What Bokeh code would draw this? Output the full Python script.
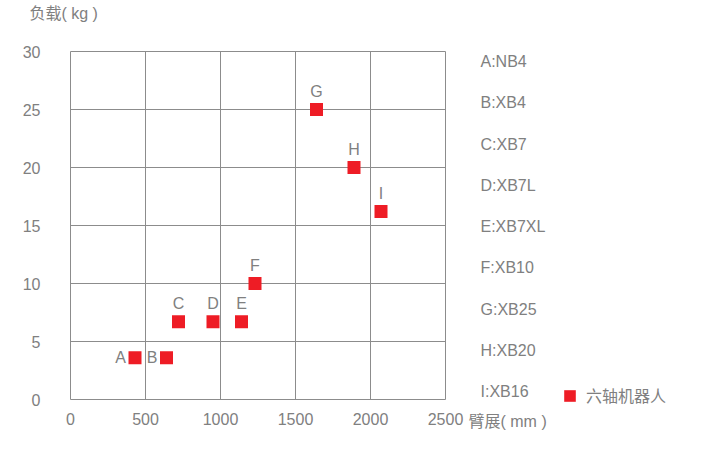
from bokeh.plotting import figure
from bokeh.models import (Range1d, FixedTicker, Label, Legend, LegendItem,
                          ColumnDataSource, LinearAxis)
from bokeh.core.properties import value
from bokeh.embed import file_html
from bokeh.resources import INLINE

# ---- data ----
point_names = ["A", "B", "C", "D", "E", "F", "G", "H", "I"]
reach_mm = [430, 640, 720, 950, 1140, 1230, 1640, 1890, 2070]
payload_kg = [3.6, 3.6, 6.7, 6.7, 6.7, 10, 25, 20, 16.2]
model_labels = ["A:NB4", "B:XB4", "C:XB7", "D:XB7L", "E:XB7XL",
                "F:XB10", "G:XB25", "H:XB20", "I:XB16"]
x_ticks = [0, 500, 1000, 1500, 2000, 2500]
y_ticks = [0, 5, 10, 15, 20, 25, 30]
series_name = "六轴机器人"
x_title = "臂展( mm )"
y_title = "负载( kg )"

# ---- style ----
FONT = "Liberation Sans, Noto Sans CJK SC"
TXT = "#808080"
GRID = "#8c8c8c"
RED = "#ee1c25"

p = figure(output_backend="svg", toolbar_location=None,
           frame_width=375, frame_height=348,
           min_border_left=70, min_border_right=282,
           min_border_top=51, min_border_bottom=55,
           x_range=Range1d(0, 2500), y_range=Range1d(0, 30))
p.title.visible = False
p.outline_line_color = GRID
p.background_fill_color = "white"
p.border_fill_color = "white"


def style_axis(ax):
    ax.axis_line_color = None
    ax.major_tick_line_color = None
    ax.minor_tick_line_color = None
    ax.major_tick_in = 0
    ax.major_tick_out = 0
    ax.minor_tick_in = 0
    ax.minor_tick_out = 0
    ax.major_label_text_font = FONT
    ax.major_label_text_font_size = "16px"
    ax.major_label_text_color = TXT


style_axis(p.xaxis[0])
style_axis(p.yaxis[0])
p.xaxis.ticker = FixedTicker(ticks=x_ticks)
p.yaxis.ticker = FixedTicker(ticks=y_ticks)
p.xaxis.major_label_standoff = 13
p.yaxis.major_label_standoff = 30

p.xgrid.ticker = FixedTicker(ticks=x_ticks)
p.ygrid.ticker = FixedTicker(ticks=y_ticks)
p.xgrid.grid_line_color = GRID
p.ygrid.grid_line_color = GRID

# right-hand key: letters -> model names, as a label-only axis
key_idx = list(range(len(model_labels)))
p.extra_y_ranges = {"key": Range1d(8.184, -0.242)}
key_axis = LinearAxis(y_range_name="key", ticker=FixedTicker(ticks=key_idx),
                      major_label_overrides={i: t for i, t in zip(key_idx, model_labels)})
style_axis(key_axis)
key_axis.major_label_standoff = 35
p.add_layout(key_axis, "right")

src = ColumnDataSource(dict(x=reach_mm, y=payload_kg, name=point_names))
r = p.scatter("x", "y", source=src, marker="square", size=13,
              fill_color=RED, line_color=None)

# point labels: first two to the left, rest above
p.text(x=reach_mm[:2], y=payload_kg[:2], text=point_names[:2],
       text_align="right", text_baseline="middle", x_offset=-9,
       text_font=value(FONT), text_font_size="16px", text_color=TXT)
p.text(x=reach_mm[2:], y=payload_kg[2:], text=point_names[2:],
       text_align="center", text_baseline="alphabetic", y_offset=-18,
       text_font=value(FONT), text_font_size="16px", text_color=TXT)

# axis titles (top-left for y, right of last x tick for x)
p.add_layout(Label(x=-41, y=38.5, x_units="screen", y_units="screen",
                   text=y_title, text_baseline="middle", text_align="left",
                   text_font=FONT, text_font_size="16px", text_color=TXT), "above")
p.add_layout(Label(x=398, y=-387, x_units="screen", y_units="screen",
                   text=x_title, text_baseline="middle", text_align="left",
                   text_font=FONT, text_font_size="16px", text_color=TXT), "above")

legend = Legend(items=[LegendItem(label=series_name, renderers=[r])],
                location=(-228.5, -10.5), orientation="vertical",
                glyph_width=29, glyph_height=29, label_standoff=2,
                padding=0, margin=0, spacing=0,
                border_line_color=None, background_fill_alpha=0,
                label_text_font=FONT, label_text_font_size="16px",
                label_text_color=TXT)
p.add_layout(legend, "right")

open("out.html", "w").write(file_html(p, INLINE))
